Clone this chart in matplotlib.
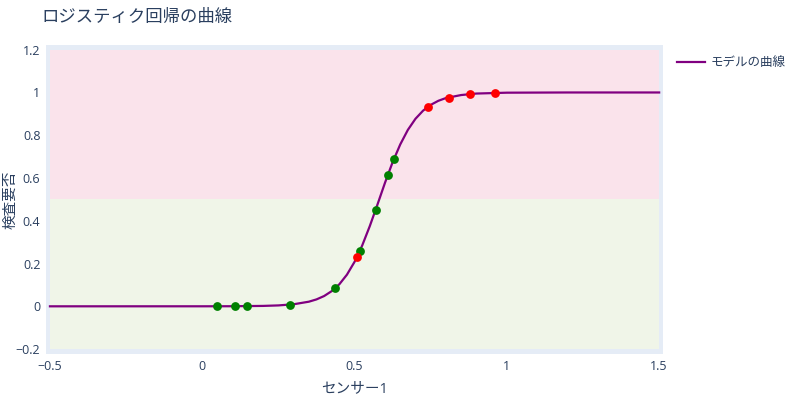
import numpy as np
import matplotlib
matplotlib.use("Agg")
import matplotlib.pyplot as plt

plt.rcParams['font.family'] = ['Open Sans', 'Noto Sans CJK JP', 'DejaVu Sans']

# モデルの曲線 (読み取り値)
curve_x = [-0.5, 0.0, 0.1, 0.2, 0.25, 0.3, 0.35, 0.375, 0.4, 0.425, 0.45, 0.475,
           0.5, 0.525, 0.55, 0.575, 0.6, 0.625, 0.65, 0.675, 0.7, 0.725, 0.75,
           0.775, 0.8, 0.85, 0.9, 1.0, 1.2, 1.5]
curve_y = [0.0, 0.0001, 0.0004, 0.0019, 0.0042, 0.0096, 0.0216, 0.0323, 0.048,
           0.071, 0.103, 0.148, 0.208, 0.284, 0.375, 0.475, 0.578, 0.674, 0.757,
           0.825, 0.877, 0.915, 0.942, 0.961, 0.974, 0.988, 0.995, 0.999, 1.0, 1.0]

# 正しく分類された点 / 誤分類の点
ok_x = [0.047, 0.107, 0.148, 0.288, 0.437, 0.519, 0.569, 0.609, 0.629]
ok_y = [0.0, 0.0, 0.0, 0.008, 0.085, 0.26, 0.45, 0.614, 0.69]
ng_x = [0.508, 0.74, 0.81, 0.88, 0.96]
ng_y = [0.23, 0.93, 0.975, 0.993, 0.998]

xticks = [-0.5, 0, 0.5, 1, 1.5]
yticks = [-0.2, 0, 0.2, 0.4, 0.6, 0.8, 1, 1.2]

txt = '#2a3f5f'

fig = plt.figure(figsize=(8, 4), dpi=100)
ax = fig.add_axes([0.0575, 0.115, 0.771, 0.7725])
ax.set_facecolor('#E5ECF6')

# 背景の領域
ax.fill_between([-0.5, 1.5], 0.5, 1.2, color='#FAE3EB', lw=0, zorder=1)
ax.fill_between([-0.5, 1.5], -0.2, 0.5, color='#F0F5E8', lw=0, zorder=1)

ax.plot(curve_x, curve_y, color='#800080', lw=1.6, zorder=3, label='モデルの曲線')
ax.scatter(ok_x, ok_y, s=40, color='green', zorder=4, linewidths=0)
ax.scatter(ng_x, ng_y, s=40, color='red', zorder=4, linewidths=0)

ax.set_xlim(-0.513, 1.512)
ax.set_ylim(-0.223, 1.222)
ax.set_xticks(xticks)
ax.set_xticklabels(['\u22120.5', '0', '0.5', '1', '1.5'])
ax.set_yticks(yticks)
ax.set_yticklabels(['\u22120.2', '0', '0.2', '0.4', '0.6', '0.8', '1', '1.2'])
ax.tick_params(length=0, labelsize=9, colors=txt, pad=4)
for s in ax.spines.values():
    s.set_visible(False)

ax.set_xlabel('センサー1', fontsize=10.5, color=txt, labelpad=6)
fig.text(11 / 800, 1 - 200 / 400, '検査要否', fontsize=10.5, color=txt,
         rotation=90, ha='center', va='center')

fig.text(0.052, 0.955, 'ロジスティク回帰の曲線', fontsize=12.5, color=txt, va='center')

leg = ax.legend(loc='upper left', bbox_to_anchor=(1.005, 1.0), frameon=False,
                fontsize=9, handlelength=2.2, handletextpad=0.5, labelcolor=txt)

fig.savefig('out.png', dpi=100)
